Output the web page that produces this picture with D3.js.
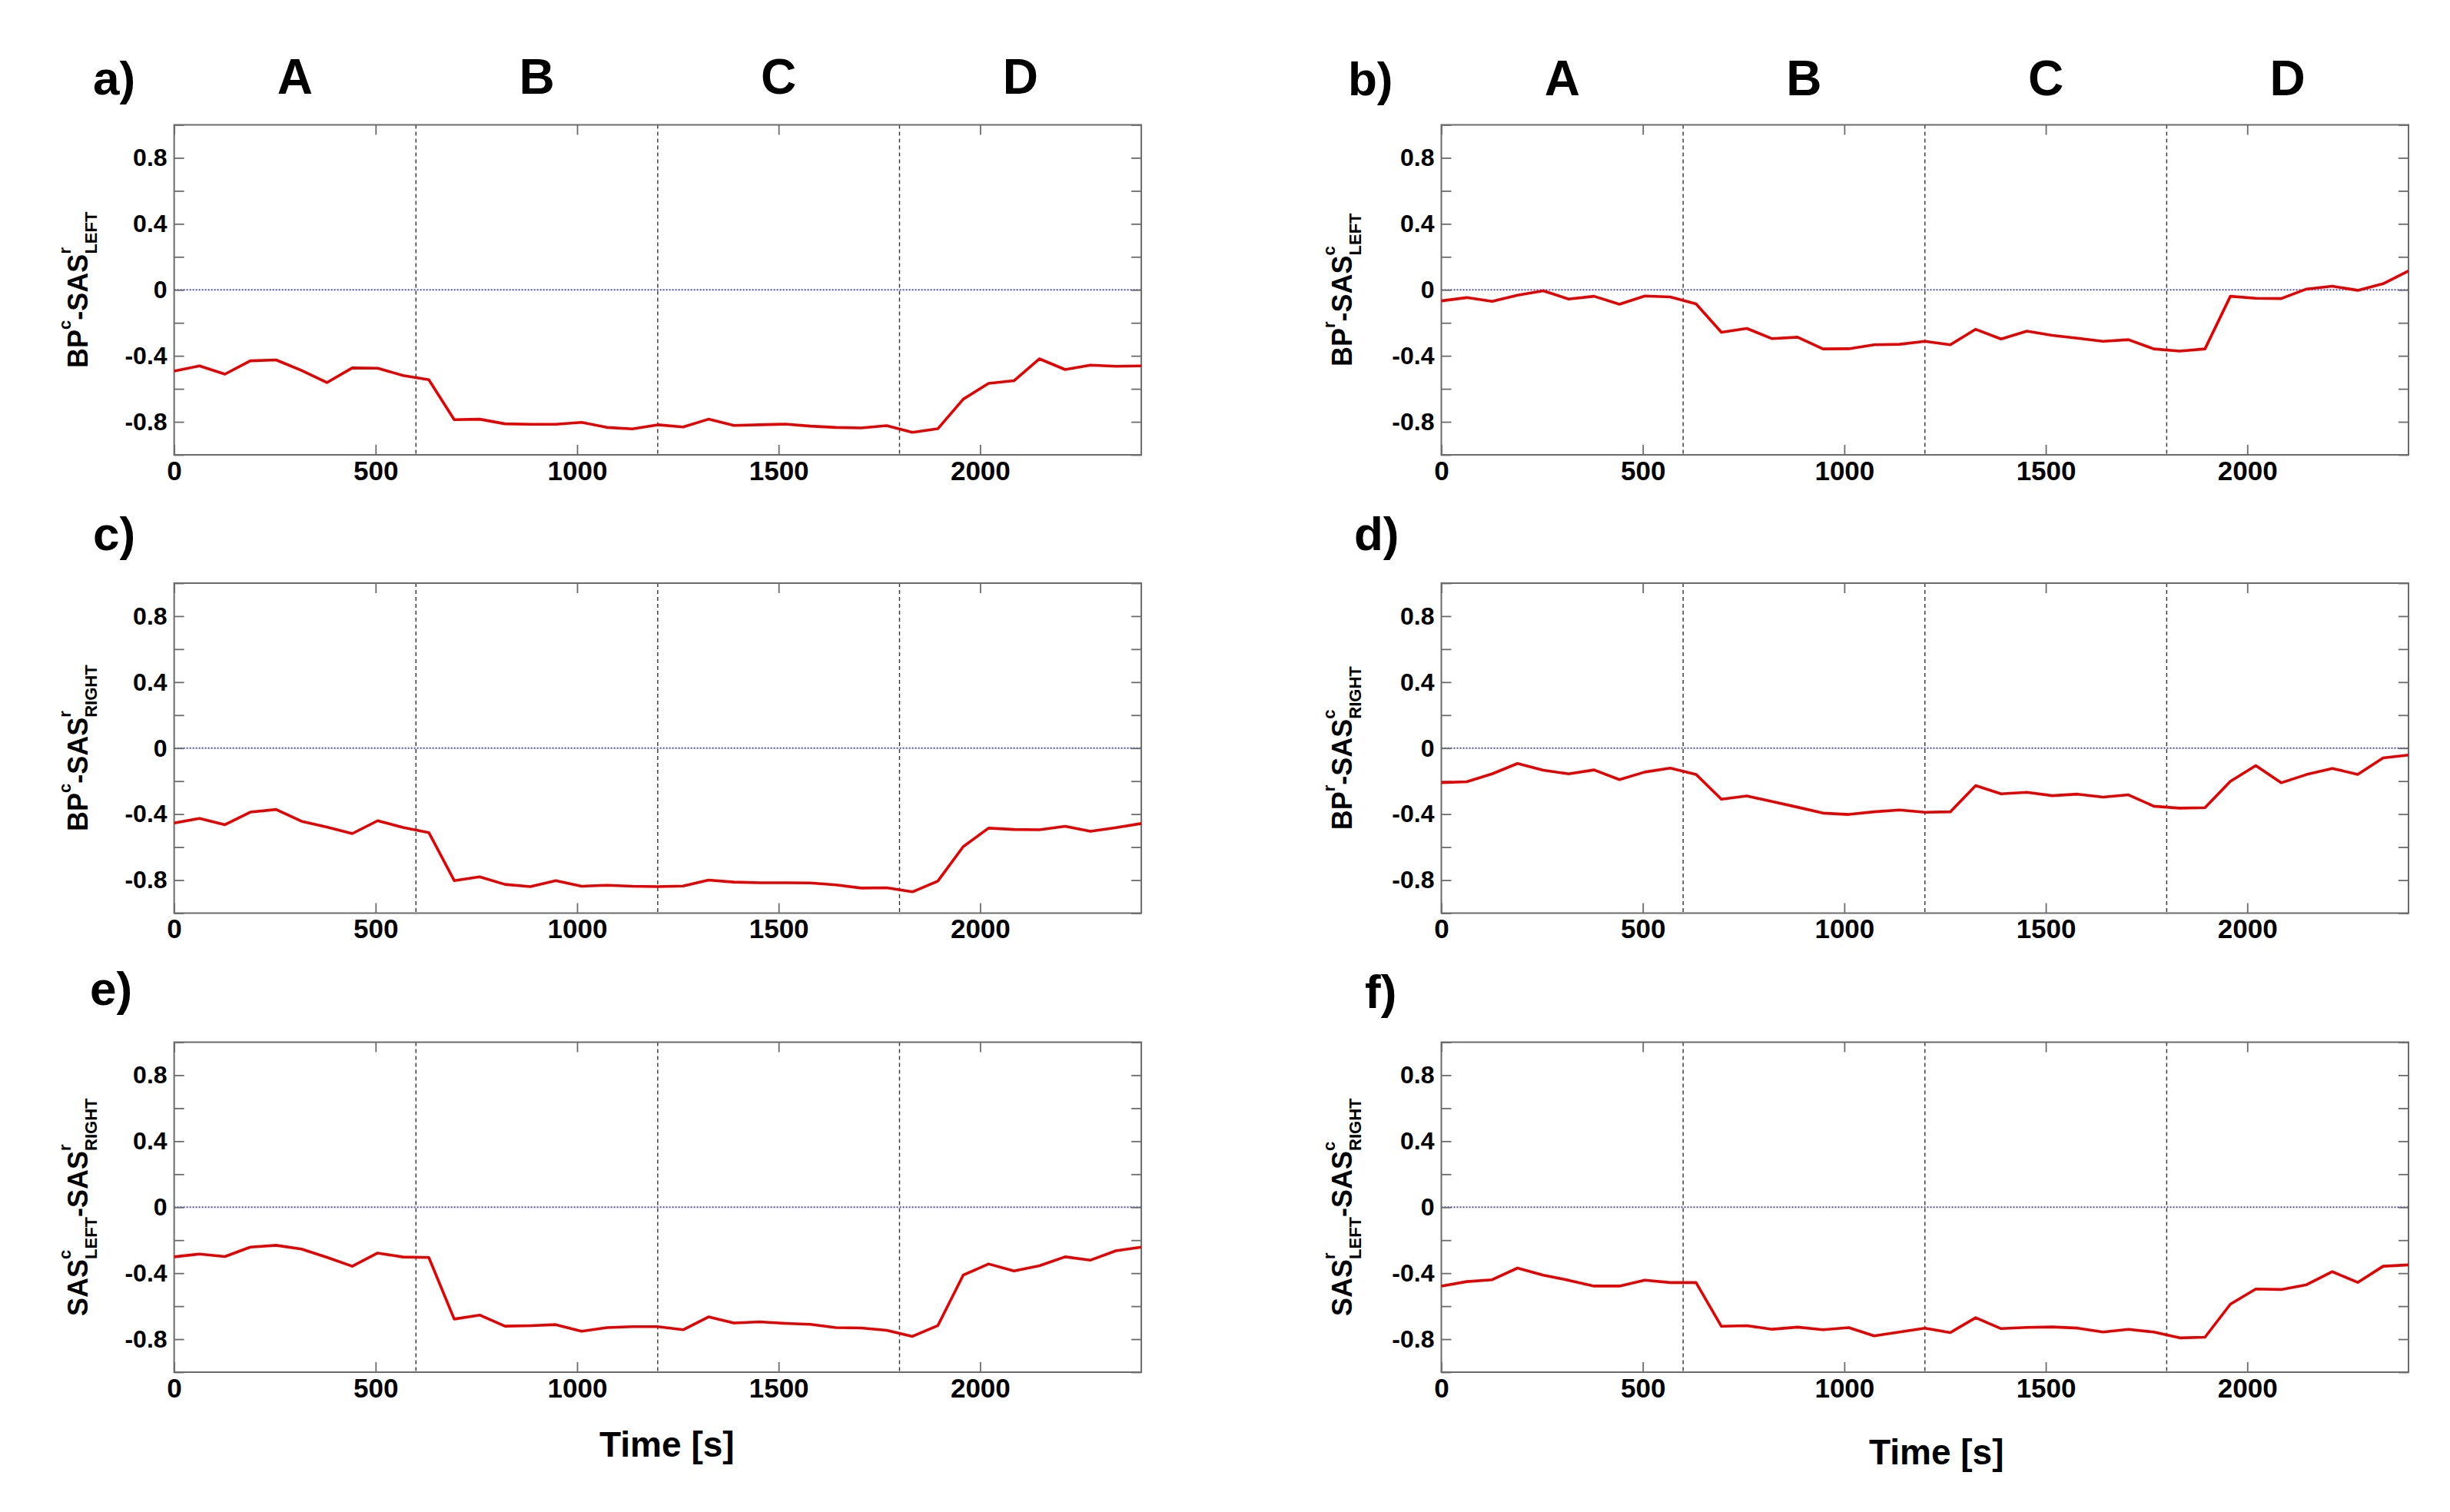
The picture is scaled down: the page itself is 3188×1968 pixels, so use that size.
<!DOCTYPE html>
<html><head><meta charset="utf-8">
<script src="https://cdn.jsdelivr.net/npm/d3@7"></script>
<style>
body{margin:0;background:#fff}
svg{display:block}
text{font-family:"Liberation Sans",Arial,Helvetica,sans-serif;font-weight:bold;fill:#000}
</style>
</head><body>
<svg id="chart" width="3188" height="1968"></svg>
<script>
// ---------- data ----------
const times = [0,63,126,189,253,316,379,442,505,568,632,695,758,821,884,947,1011,1074,1137,1200,1263,1326,1389,1453,1516,1579,1642,1705,1768,1832,1895,1958,2021,2084,2147,2211,2274,2337,2400];

const seriesA = [-0.492,-0.461,-0.511,-0.430,-0.425,-0.488,-0.562,-0.473,-0.475,-0.519,-0.545,-0.787,-0.784,-0.812,-0.815,-0.815,-0.803,-0.834,-0.843,-0.818,-0.831,-0.784,-0.822,-0.818,-0.814,-0.826,-0.834,-0.837,-0.823,-0.864,-0.842,-0.663,-0.567,-0.551,-0.418,-0.483,-0.456,-0.463,-0.461];
const seriesB = [-0.067,-0.047,-0.070,-0.033,-0.006,-0.056,-0.039,-0.087,-0.037,-0.043,-0.085,-0.257,-0.234,-0.296,-0.287,-0.358,-0.357,-0.333,-0.330,-0.312,-0.333,-0.239,-0.298,-0.250,-0.276,-0.293,-0.312,-0.302,-0.358,-0.371,-0.358,-0.039,-0.051,-0.053,0.005,0.022,-0.003,0.037,0.115];
const seriesC = [-0.454,-0.426,-0.464,-0.388,-0.372,-0.443,-0.479,-0.518,-0.440,-0.481,-0.512,-0.803,-0.780,-0.826,-0.839,-0.803,-0.837,-0.831,-0.837,-0.839,-0.836,-0.800,-0.812,-0.816,-0.816,-0.817,-0.829,-0.848,-0.846,-0.871,-0.806,-0.597,-0.485,-0.493,-0.495,-0.474,-0.504,-0.482,-0.457];
const seriesD = [-0.209,-0.204,-0.156,-0.093,-0.134,-0.156,-0.132,-0.191,-0.145,-0.121,-0.159,-0.310,-0.290,-0.324,-0.358,-0.394,-0.402,-0.386,-0.375,-0.389,-0.386,-0.227,-0.277,-0.268,-0.288,-0.279,-0.297,-0.283,-0.352,-0.364,-0.361,-0.201,-0.106,-0.210,-0.160,-0.123,-0.159,-0.059,-0.042];
const seriesE = [-0.301,-0.284,-0.299,-0.242,-0.231,-0.254,-0.304,-0.358,-0.278,-0.302,-0.305,-0.678,-0.654,-0.721,-0.718,-0.712,-0.752,-0.730,-0.724,-0.724,-0.743,-0.665,-0.702,-0.695,-0.704,-0.710,-0.730,-0.732,-0.746,-0.783,-0.718,-0.412,-0.344,-0.386,-0.355,-0.301,-0.321,-0.264,-0.242];
const seriesF = [-0.478,-0.451,-0.440,-0.369,-0.412,-0.443,-0.478,-0.478,-0.442,-0.457,-0.457,-0.722,-0.718,-0.740,-0.727,-0.743,-0.730,-0.780,-0.757,-0.733,-0.760,-0.670,-0.736,-0.729,-0.726,-0.733,-0.757,-0.740,-0.757,-0.792,-0.788,-0.588,-0.496,-0.499,-0.470,-0.391,-0.456,-0.358,-0.350];

const panelLetters = ["a)","b)","c)","d)","e)","f)"];
const phaseLabels = ["A","B","C","D"];
const phaseMids = [300,900,1500,2100];
const phaseBounds = [600,1200,1800];
const yTickPositions = [-1,-0.8,-0.6,-0.4,-0.2,0,0.2,0.4,0.6,0.8,1];
const yTickLabels = ["-0.8","-0.4","0","0.4","0.8"];
const xTickPositions = [0,500,1000,1500,2000];
const xTickLabels = ["0","500","1000","1500","2000"];
const xLabel = "Time [s]";
// y-label pieces: base text, superscript, subscript
const yLabels = [
  [{base:"BP",sup:"c"},{base:"-SAS",sup:"r",sub:"LEFT"}],
  [{base:"BP",sup:"r"},{base:"-SAS",sup:"c",sub:"LEFT"}],
  [{base:"BP",sup:"c"},{base:"-SAS",sup:"r",sub:"RIGHT"}],
  [{base:"BP",sup:"r"},{base:"-SAS",sup:"c",sub:"RIGHT"}],
  [{base:"SAS",sup:"c",sub:"LEFT"},{base:"-SAS",sup:"r",sub:"RIGHT"}],
  [{base:"SAS",sup:"r",sub:"LEFT"},{base:"-SAS",sup:"c",sub:"RIGHT"}]
];
const allSeries = [seriesA,seriesB,seriesC,seriesD,seriesE,seriesF];

// ---------- layout ----------
const colX = [226.6, 1875.5];
const rowY = [162.5, 759, 1356.5];
const plotW = 1258.5, plotH = 429.5;
const letterX = [121, 1754, 121, 1762, 117, 1776];
const letterBase = [123, 124, 716, 716, 1308, 1312];
const axisGrey = "#6b6b6b";

const svg = d3.select("#chart");

function drawYLabel(g, cx, cy, segs){
  const t = g.append("text")
    .attr("transform", `translate(${cx},${cy}) rotate(-90)`)
    .attr("text-anchor","middle")
    .style("font-size","36px");
  let cur = 0;
  segs.forEach(s => {
    t.append("tspan").text(s.base).attr("dy", 0 - cur).style("font-size","36px");
    cur = 0;
    let supT = null;
    if (s.sup){
      supT = t.append("tspan").text(s.sup).attr("dy", -22 - cur).style("font-size","22px");
      cur = -22;
    }
    if (s.sub){
      const w = supT ? supT.node().getComputedTextLength() : 0;
      t.append("tspan").text(s.sub).attr("dx", -w).attr("dy", 12 - cur).style("font-size","22px");
      cur = 12;
    }
  });
}

allSeries.forEach((vals, k) => {
  const col = k % 2, row = Math.floor(k / 2);
  const L = colX[col], T = rowY[row];
  const x = d3.scaleLinear().domain([0,2400]).range([L, L + plotW]);
  const y = d3.scaleLinear().domain([-1,1]).range([T + plotH, T]);
  const g = svg.append("g");

  // zero reference line
  g.append("line")
    .attr("x1", x(0)).attr("x2", x(2400)).attr("y1", y(0)).attr("y2", y(0))
    .attr("stroke","#4d4db8").attr("stroke-width",2).attr("stroke-dasharray","2,2");

  // phase boundaries
  g.selectAll(".pb").data(phaseBounds).enter().append("line")
    .attr("x1", d => x(d)).attr("x2", d => x(d))
    .attr("y1", y(1)).attr("y2", y(-1))
    .attr("stroke","#333").attr("stroke-width",1.4).attr("stroke-dasharray","5,4");

  // axes
  const fmtY = v => { const s = String(v); return yTickLabels.includes(s) ? s : ""; };
  const fmtX = v => { const s = String(v); return xTickLabels.includes(s) ? s : ""; };

  const ax = [
    g.append("g").attr("transform",`translate(${L},0)`).call(d3.axisLeft(y).tickValues(yTickPositions).tickSizeInner(-13).tickSizeOuter(0).tickPadding(9).tickFormat(fmtY)),
    g.append("g").attr("transform",`translate(${L+plotW},0)`).call(d3.axisRight(y).tickValues(yTickPositions).tickSizeInner(-13).tickSizeOuter(0).tickFormat("")),
    g.append("g").attr("transform",`translate(0,${T+plotH})`).call(d3.axisBottom(x).tickValues(xTickPositions).tickSizeInner(-13).tickSizeOuter(0).tickPadding(8).tickFormat(fmtX)),
    g.append("g").attr("transform",`translate(0,${T})`).call(d3.axisTop(x).tickValues(xTickPositions).tickSizeInner(-13).tickSizeOuter(0).tickFormat(""))
  ];
  ax.forEach(a => {
    a.select(".domain").remove();
    a.selectAll(".tick line").attr("stroke", axisGrey).attr("stroke-width",1.8);
    a.attr("font-family", null).attr("font-size", null);
  });
  ax[0].selectAll("text").style("font-size","32px").attr("fill","#000");
  ax[2].selectAll("text").style("font-size","35px").attr("fill","#000");

  // box
  g.append("rect").attr("x", L).attr("y", T).attr("width", plotW).attr("height", plotH)
    .attr("fill","none").attr("stroke", axisGrey).attr("stroke-width",2);

  // data line
  const line = d3.line().x((d,i) => x(times[i])).y(d => y(d));
  g.append("path").datum(vals).attr("d", line)
    .attr("fill","none").attr("stroke","#e60000").attr("stroke-width",3.6)
    .attr("stroke-linejoin","round");

  // panel letter
  g.append("text").attr("x", letterX[k]).attr("y", letterBase[k])
    .style("font-size","62px").text(panelLetters[k]);

  // phase labels on top row
  if (row === 0){
    g.selectAll(".ph").data(phaseLabels).enter().append("text")
      .attr("x", (d,i) => x(phaseMids[i])).attr("y", T - 41 + col * 2)
      .attr("text-anchor","middle").style("font-size","64px").text(d => d);
  }

  // y label
  drawYLabel(g, L - 113 - col * 4, T + plotH / 2, yLabels[k]);

  // x label on bottom row
  if (row === 2){
    g.append("text").attr("x", L + plotW / 2 + 12 + col * 3).attr("y", 1896 + col * 10)
      .attr("text-anchor","middle").style("font-size","46px").text(xLabel);
  }
});
</script>
</body></html>
